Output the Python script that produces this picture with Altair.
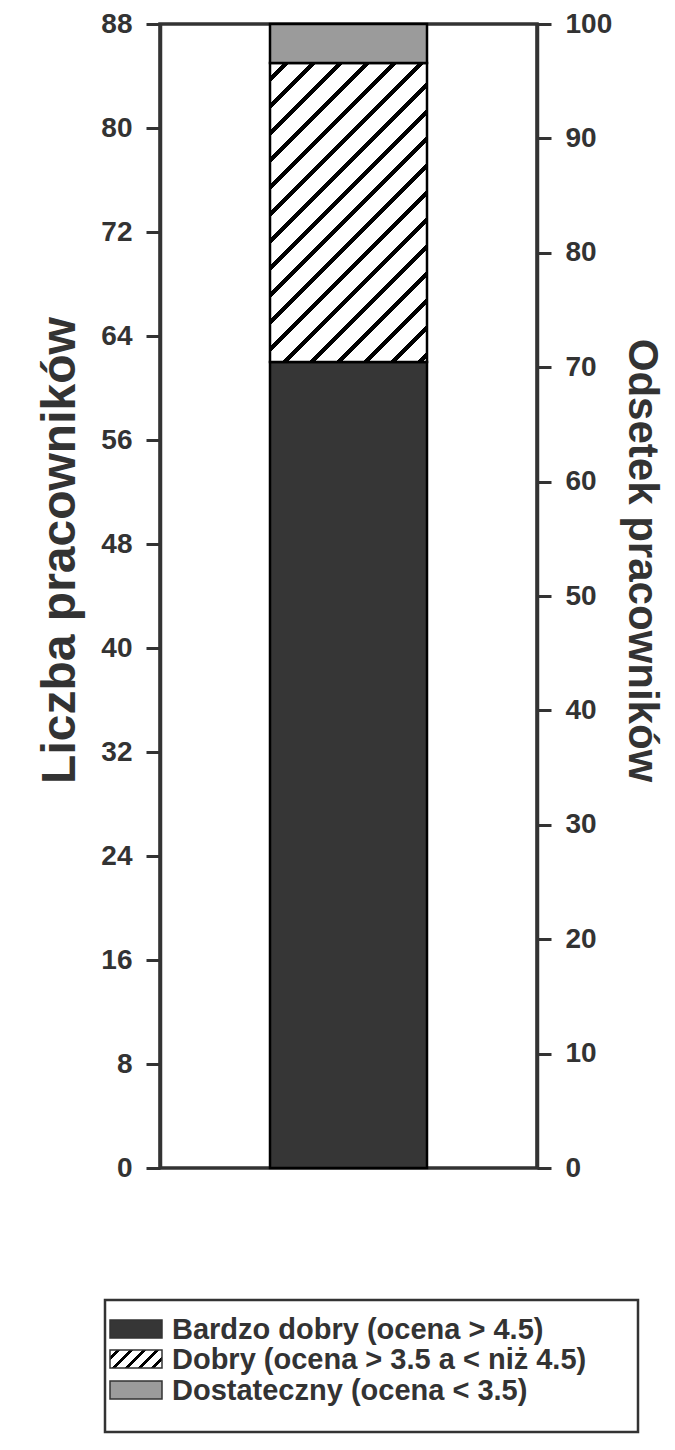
import altair as alt
import pandas as pd

# ---- data ----
categories = [
    "Bardzo dobry (ocena > 4.5)",
    "Dobry (ocena > 3.5 a < niż 4.5)",
    "Dostateczny (ocena < 3.5)",
]
keys = ["bd", "d", "dst"]
counts = [62, 23, 3]
count_ticks = [0, 8, 16, 24, 32, 40, 48, 56, 64, 72, 80, 88]
pct_ticks = [0, 10, 20, 30, 40, 50, 60, 70, 80, 90, 100]
count_title = "Liczba pracowników"
pct_title = "Odsetek pracowników"

# ---- styles ----
INK = "#333333"
DARK = "#363636"
GREY = "#9b9b9b"
FONT = "Liberation Sans"
W, H = 377, 1144
BAR_W = 157
COUNT_MAX = count_ticks[-1]


def hatch(w, h, spacing, thick):
    """Diagonal black stripes on white built as a hard-stop linear gradient."""
    s = (w + h) / (w * w + h * h)
    period = spacing / (w + h)
    t = thick / (w + h)
    stops = [{"offset": 0, "color": "white"}]
    k = 0
    while True:
        a = k * period + period / 2
        if a >= 1:
            break
        b = min(a + t, 1)
        stops += [
            {"offset": round(a, 5), "color": "white"},
            {"offset": round(a, 5), "color": "black"},
            {"offset": round(b, 5), "color": "black"},
            {"offset": round(b, 5), "color": "white"},
        ]
        k += 1
    stops.append({"offset": 1, "color": "white"})
    return {"gradient": "linear", "x1": 0, "y1": 0,
            "x2": s * w, "y2": s * h, "stops": stops}


total = sum(counts)
starts, ends = [], []
acc = 0
for c in counts:
    starts.append(acc)
    acc += c
    ends.append(acc)

df = pd.DataFrame({
    "cat": categories,
    "key": keys,
    "start": starts,
    "end": ends,
    "pct_end": [e / total * 100 for e in ends],
    "grp": ["A"] * len(counts),
})

hatch_px_h = H * counts[1] / COUNT_MAX
fills = {
    "bd": DARK,
    "d": hatch(BAR_W, hatch_px_h, 27, 6),
    "dst": GREY,
}

count_axis = alt.Axis(
    values=count_ticks, orient="left", title=count_title,
    titleAngle=-90, titleX=-100, titleY=526, titleAlign="center",
    titleBaseline="middle", labelPadding=14, titleFontSize=48,
)
pct_axis = alt.Axis(
    values=pct_ticks, orient="right", title=pct_title,
    titleAngle=90, titleX=104, titleY=536, titleAlign="center",
    titleBaseline="middle", labelPadding=14, titleFontSize=42,
)

base = alt.Chart(df)
bars = []
for k in keys:
    bars.append(
        base.transform_filter(alt.datum.key == k)
        .mark_bar(width=BAR_W, fill=fills[k], stroke="black", strokeWidth=2.5)
        .encode(
            x=alt.X("grp:N", axis=None),
            y=alt.Y("start:Q", scale=alt.Scale(domain=[0, COUNT_MAX], nice=False),
                    axis=count_axis),
            y2="end:Q",
        )
    )
bar_layer = alt.layer(*bars)

pct_layer = base.mark_point(opacity=0).encode(
    y=alt.Y("pct_end:Q", scale=alt.Scale(domain=[0, 100], nice=False), axis=pct_axis)
)

# ---- custom legend below the plot ----
leg_box = alt.Chart(df).transform_filter(alt.datum.key == keys[0]).mark_rect(
    fill="white", stroke=INK, strokeWidth=2.5
).encode(x=alt.value(-55), x2=alt.value(478), y=alt.value(1276), y2=alt.value(1408))

leg_fills = {"bd": DARK, "d": hatch(52, 18, 13, 4), "dst": GREY}
leg_layers = [leg_box]
row_y = [1305, 1335, 1366]
for i, k in enumerate(keys):
    sub = alt.Chart(df).transform_filter(alt.datum.key == k)
    leg_layers.append(
        sub.mark_rect(fill=leg_fills[k], stroke=INK, strokeWidth=1.5).encode(
            x=alt.value(-50), x2=alt.value(2),
            y=alt.value(row_y[i] - 9), y2=alt.value(row_y[i] + 9),
        )
    )
    leg_layers.append(
        sub.mark_text(align="left", baseline="middle", font=FONT, fontSize=29,
                      fontWeight="bold", color=INK).encode(
            x=alt.value(12), y=alt.value(row_y[i] + 1), text="cat:N"
        )
    )

chart = (
    alt.layer(bar_layer, pct_layer, *leg_layers)
    .resolve_scale(y="independent")
    .properties(
        width=W, height=H,
        autosize=alt.AutoSizeParams(type="none"),
        padding={"left": 152, "top": 16, "right": 130, "bottom": 272},
        background="white",
    )
    .configure_view(stroke=INK, strokeWidth=3.5)
    .configure_axis(
        grid=False,
        labelFont=FONT, labelFontSize=28, labelFontWeight="bold", labelColor=INK,
        titleFont=FONT, titleFontWeight="bold", titleColor=INK,
        domainColor=INK, domainWidth=3.5,
        tickColor=INK, tickWidth=3, tickSize=14,
    )
)

chart.save("out.html", embed_options={"renderer": "svg", "actions": False})
